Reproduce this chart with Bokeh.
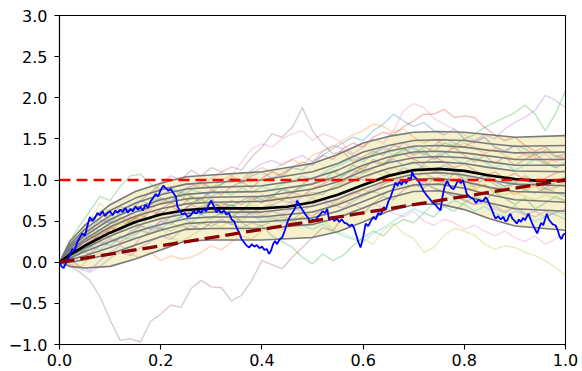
import numpy as np
from bokeh.plotting import figure
from bokeh.models import Range1d, FixedTicker
from bokeh.embed import file_html
from bokeh.resources import INLINE

# ---------------- data ----------------
x_ticks = [0.0, 0.2, 0.4, 0.6, 0.8, 1.0]
x_tick_labels = ["0.0", "0.2", "0.4", "0.6", "0.8", "1.0"]
y_ticks = [-1.0, -0.5, 0.0, 0.5, 1.0, 1.5, 2.0, 2.5, 3.0]
y_tick_labels = ["\u22121.0", "\u22120.5", "0.0", "0.5", "1.0", "1.5", "2.0", "2.5", "3.0"]

# mean curve (black)
mean_t = [0, 0.02, 0.05, 0.1, 0.15, 0.2, 0.25, 0.3, 0.35, 0.4, 0.45, 0.5, 0.55, 0.6, 0.65,
          0.7, 0.75, 0.8, 0.85, 0.9, 0.95, 1.0]
mean_y = [0, 0.09, 0.20, 0.36, 0.49, 0.58, 0.635, 0.655, 0.655, 0.655, 0.675, 0.73, 0.82, 0.94,
          1.05, 1.12, 1.135, 1.11, 1.055, 1.01, 0.99, 1.0]

# quantile curves (gray), outermost first
q_t = [0, 0.02, 0.05, 0.1, 0.15, 0.2, 0.25, 0.3, 0.4, 0.5, 0.55, 0.6, 0.65, 0.7, 0.75, 0.8, 0.85, 0.9, 1.0]
q_top = [0, 0.25, 0.45, 0.70, 0.86, 0.96, 1.04, 1.06, 1.10, 1.20, 1.31, 1.45, 1.53, 1.58, 1.59, 1.58, 1.55, 1.52, 1.54]
q_u1 = [0, 0.215, 0.40, 0.63, 0.78, 0.88, 0.95, 0.97, 1.00, 1.10, 1.20, 1.34, 1.42, 1.48, 1.49, 1.48, 1.44, 1.41, 1.42]
q_u2 = [0, 0.19, 0.355, 0.57, 0.72, 0.82, 0.89, 0.91, 0.93, 1.02, 1.12, 1.26, 1.35, 1.41, 1.42, 1.40, 1.36, 1.33, 1.34]
q_u3 = [0, 0.165, 0.32, 0.52, 0.66, 0.76, 0.825, 0.85, 0.86, 0.95, 1.05, 1.18, 1.28, 1.34, 1.35, 1.33, 1.29, 1.25, 1.25]
q_u4 = [0, 0.14, 0.28, 0.47, 0.61, 0.71, 0.77, 0.79, 0.80, 0.89, 0.98, 1.11, 1.21, 1.27, 1.285, 1.27, 1.22, 1.18, 1.18]
q_u5 = [0, 0.12, 0.25, 0.43, 0.56, 0.65, 0.71, 0.73, 0.74, 0.82, 0.91, 1.04, 1.14, 1.21, 1.22, 1.20, 1.15, 1.11, 1.10]
q_l1 = [0, 0.075, 0.17, 0.32, 0.44, 0.53, 0.59, 0.61, 0.61, 0.68, 0.77, 0.89, 1.00, 1.07, 1.09, 1.06, 1.00, 0.95, 0.93]
q_l2 = [0, 0.05, 0.13, 0.25, 0.37, 0.46, 0.53, 0.55, 0.55, 0.61, 0.70, 0.82, 0.93, 1.01, 1.02, 0.98, 0.91, 0.86, 0.84]
q_l3 = [0, 0.03, 0.08, 0.18, 0.29, 0.39, 0.47, 0.49, 0.49, 0.54, 0.62, 0.74, 0.86, 0.94, 0.95, 0.90, 0.82, 0.76, 0.73]
q_l4 = [0, 0.0, 0.03, 0.10, 0.21, 0.31, 0.40, 0.41, 0.41, 0.46, 0.54, 0.66, 0.78, 0.86, 0.87, 0.81, 0.72, 0.65, 0.62]
q_bot = [0, -0.05, -0.07, -0.05, 0.04, 0.15, 0.26, 0.27, 0.27, 0.30, 0.37, 0.49, 0.62, 0.70, 0.71, 0.64, 0.53, 0.44, 0.39]

# faint sample paths (values at t = 0, 0.02, ..., 1.0)
path_brown1 = [0, -0.04, -0.12, -0.22, -0.42, -0.70, -0.95, -0.93, -0.97, -0.72,
               -0.63, -0.52, -0.55, -0.32, -0.22, -0.30, -0.31, -0.47, -0.40, -0.22,
               0.02, -0.03, -0.08, 0.06, 0.18, 0.30, 0.42, 0.38, 0.55, 0.62,
               0.58, 0.72, 0.80, 0.76, 0.88, 0.95, 0.90, 1.02, 0.97, 1.08,
               1.00, 0.92, 1.02, 0.95, 0.88, 0.96, 1.05, 0.98, 0.90, 0.97, 1.04]
path_brown2 = [0, 0.12, 0.22, 0.35, 0.45, 0.55, 0.68, 0.62, 0.75, 0.85,
               0.95, 1.05, 1.00, 1.12, 1.05, 1.15, 1.10, 1.16, 1.12, 1.28,
               1.40, 1.56, 1.52, 1.64, 1.88, 1.60, 1.44, 1.32, 1.35, 1.22,
               1.28, 1.35, 1.30, 1.42, 1.38, 1.30, 1.36, 1.25, 1.32, 1.40,
               1.30, 1.22, 1.30, 1.20, 1.28, 1.18, 1.25, 1.32, 1.22, 1.15, 1.20]
path_pink1 = [0, 0.08, 0.15, 0.28, 0.40, 0.36, 0.48, 0.60, 0.55, 0.68,
              0.75, 0.72, 0.85, 0.95, 0.90, 1.02, 1.10, 1.05, 1.22, 1.38,
              1.44, 1.40, 1.50, 1.56, 1.60, 1.48, 1.56, 1.52, 1.44, 1.32,
              1.40, 1.50, 1.45, 1.60, 1.84, 1.93, 1.88, 1.75, 1.68, 1.62,
              1.55, 1.48, 1.52, 1.40, 1.35, 1.42, 1.30, 1.25, 1.32, 1.22, 1.28]
path_red1 = [0, 0.10, 0.18, 0.25, 0.32, 0.42, 0.38, 0.50, 0.58, 0.52,
             0.65, 0.72, 0.68, 0.80, 0.75, 0.88, 0.82, 0.92, 0.98, 0.90,
             1.02, 1.10, 1.05, 1.15, 1.22, 1.18, 1.30, 1.25, 1.38, 1.45,
             1.40, 1.52, 1.58, 1.55, 1.65, 1.72, 1.80, 1.80, 1.86, 1.76,
             1.78, 1.76, 1.64, 1.55, 1.48, 1.52, 1.42, 1.35, 1.40, 1.30, 1.25]
path_green1 = [0, 0.15, 0.10, 0.22, 0.35, 0.42, 0.55, 0.48, 0.60, 0.70,
               0.78, 0.72, 0.85, 0.80, 0.72, 0.78, 0.65, 0.70, 0.62, 0.75,
               0.82, 0.78, 0.90, 0.85, 0.95, 1.02, 0.98, 1.10, 1.05, 1.18,
               1.12, 1.25, 1.20, 1.30, 1.38, 1.32, 1.40, 1.35, 1.45, 1.42,
               1.50, 1.55, 1.64, 1.70, 1.76, 1.82, 1.91, 1.80, 1.60, 1.80, 2.09]
path_green2 = [0, 0.25, 0.45, 0.62, 0.80, 0.75, 0.92, 1.05, 1.07, 0.95,
               0.88, 0.92, 0.80, 0.72, 0.78, 0.65, 0.58, 0.62, 0.48, 0.40,
               0.45, 0.32, 0.25, 0.18, 0.06, -0.02, 0.10, 0.02, 0.08, 0.20,
               0.30, 0.38, 0.32, 0.45, 0.52, 0.48, 0.60, 0.55, 0.68, 0.62,
               0.72, 0.80, 0.75, 0.85, 0.78, 0.70, 0.78, 0.65, 0.72, 0.80, 0.75]
path_purple1 = [0, 0.05, -0.05, -0.10, 0.02, 0.12, 0.20, 0.15, 0.30, 0.38,
                0.45, 0.55, 0.62, 0.70, 0.78, 0.85, 0.95, 1.02, 1.00, 1.12,
                1.20, 1.24, 1.18, 1.25, 1.30, 1.22, 1.35, 1.42, 1.38, 1.30,
                1.25, 1.32, 1.40, 1.35, 1.45, 1.38, 1.30, 1.42, 1.50, 1.45,
                1.40, 1.48, 1.55, 1.50, 1.62, 1.70, 1.76, 1.85, 2.03, 1.97, 1.88]
path_olive1 = [0, 0.20, 0.35, 0.50, 0.72, 0.60, 0.45, 0.52, 0.40, 0.35,
               0.42, 0.30, 0.25, 0.32, 0.40, 0.48, 0.42, 0.55, 0.50, 0.62,
               0.58, 0.52, 0.60, 0.48, 0.55, 0.45, 0.52, 0.40, 0.35, 0.30,
               0.28, 0.22, 0.39, 0.47, 0.35, 0.29, 0.12, 0.18, 0.33, 0.41,
               0.38, 0.33, 0.22, 0.16, 0.20, 0.18, 0.12, 0.08, 0.02, -0.06, -0.16]
path_cyan1 = [0, 0.05, 0.12, 0.20, 0.15, 0.25, 0.32, 0.28, 0.38, 0.45,
              0.40, 0.50, 0.55, 0.48, 0.58, 0.52, 0.60, 0.55, 0.62, 0.58,
              0.50, 0.55, 0.48, 0.52, 0.45, 0.40, 0.46, 0.38, 0.32, 0.28,
              0.25, 0.35, 0.42, 0.50, 0.58, 0.65, 0.60, 0.72, 0.68, 0.75,
              0.70, 0.62, 0.68, 0.60, 0.55, 0.62, 0.58, 0.50, 0.55, 0.62, 0.58]
path_blue1 = [0, 0.15, 0.28, 0.40, 0.52, 0.48, 0.60, 0.68, 0.75, 0.70,
              0.82, 0.88, 0.85, 0.92, 0.98, 0.90, 0.95, 1.02, 0.96, 1.05,
              1.10, 1.02, 1.08, 1.15, 1.12, 1.22, 1.30, 1.38, 1.45, 1.52,
              1.48, 1.60, 1.68, 1.80, 1.72, 1.65, 1.70, 1.60, 1.55, 1.62,
              1.50, 1.45, 1.52, 1.40, 1.35, 1.42, 1.38, 1.30, 1.36, 1.28, 1.32]
path_blue2 = [0, 0.04, 0.10, 0.18, 0.25, 0.20, 0.30, 0.36, 0.44, 0.40,
              0.50, 0.46, 0.55, 0.62, 0.58, 0.66, 0.72, 0.68, 0.75, 0.80,
              0.76, 0.82, 0.88, 0.84, 0.92, 0.96, 1.02, 0.98, 1.05, 1.12,
              1.08, 1.15, 1.20, 1.25, 1.18, 1.22, 1.15, 1.10, 1.18, 1.12,
              1.05, 1.00, 1.06, 0.98, 0.92, 0.96, 0.88, 0.84, 0.90, 0.85, 0.80]
path_orange1 = [0, 0.10, 0.22, 0.18, 0.30, 0.42, 0.50, 0.45, 0.58, 0.65,
                0.72, 0.80, 0.75, 0.88, 0.95, 0.90, 1.00, 1.05, 0.98, 1.08,
                1.15, 1.10, 1.20, 1.25, 1.18, 1.30, 1.35, 1.40, 1.48, 1.55,
                1.60, 1.68, 1.65, 1.58, 1.62, 1.52, 1.45, 1.50, 1.42, 1.38,
                1.45, 1.40, 1.32, 1.38, 1.30, 1.25, 1.32, 1.28, 1.20, 1.25, 1.30]
path_orange2 = [0, 0.02, -0.06, 0.05, 0.12, 0.08, 0.15, 0.10, 0.05, 0.12,
                0.02, 0.08, 0.04, 0.06, 0.12, 0.20, 0.15, 0.25, 0.32, 0.28,
                0.38, 0.45, 0.40, 0.50, 0.55, 0.62, 0.58, 0.70, 0.75, 0.82,
                0.88, 0.85, 0.95, 1.02, 0.98, 1.05, 1.10, 1.02, 0.95, 1.00,
                0.92, 0.88, 0.95, 0.85, 0.90, 0.82, 0.88, 0.92, 0.85, 0.90, 0.96]
path_red2 = [0, 0.12, 0.20, 0.32, 0.28, 0.40, 0.48, 0.55, 0.52, 0.62,
             0.58, 0.68, 0.62, 0.70, 0.65, 0.72, 0.68, 0.75, 0.70, 0.78,
             0.72, 0.80, 0.75, 0.85, 0.80, 0.90, 0.95, 1.02, 0.98, 1.08,
             1.15, 1.22, 1.18, 1.28, 1.32, 1.25, 1.20, 1.28, 1.22, 1.15,
             1.20, 1.12, 1.05, 1.10, 1.02, 1.08, 1.00, 0.95, 1.02, 1.08, 1.12]
path_pink2 = [0, 0.08, 0.02, 0.12, 0.22, 0.30, 0.25, 0.38, 0.45, 0.40,
              0.50, 0.55, 0.62, 0.58, 0.65, 0.60, 0.68, 0.62, 0.58, 0.65,
              0.60, 0.70, 0.66, 0.75, 0.70, 0.78, 0.72, 0.68, 0.75, 0.70,
              0.65, 0.72, 0.66, 0.60, 0.55, 0.62, 0.50, 0.45, 0.52, 0.48,
              0.40, 0.45, 0.38, 0.32, 0.38, 0.30, 0.25, 0.32, 0.22, 0.28, 0.35]
path_gray1 = [0, 0.10, 0.15, 0.25, 0.35, 0.30, 0.42, 0.50, 0.45, 0.55,
              0.62, 0.58, 0.65, 0.60, 0.68, 0.72, 0.66, 0.70, 0.64, 0.60,
              0.66, 0.70, 0.75, 0.72, 0.80, 0.85, 0.82, 0.92, 0.98, 1.05,
              1.00, 1.08, 1.12, 1.05, 1.15, 1.10, 1.18, 1.12, 1.05, 1.10,
              1.02, 0.98, 1.05, 1.00, 0.92, 0.98, 0.90, 0.95, 0.88, 0.92, 0.98]
path_purple2 = [0, -0.02, -0.08, -0.12, -0.05, 0.05, 0.12, 0.08, 0.18, 0.25,
                0.32, 0.28, 0.38, 0.45, 0.40, 0.48, 0.52, 0.46, 0.55, 0.60,
                0.56, 0.62, 0.58, 0.66, 0.62, 0.70, 0.76, 0.72, 0.80, 0.86,
                0.82, 0.90, 0.95, 1.00, 0.96, 1.02, 0.95, 0.90, 0.85, 0.80,
                0.76, 0.70, 0.72, 0.65, 0.60, 0.66, 0.58, 0.62, 0.55, 0.60, 0.65]
path_cyan2 = [0, 0.18, 0.30, 0.42, 0.38, 0.50, 0.58, 0.65, 0.62, 0.72,
              0.78, 0.75, 0.82, 0.88, 0.85, 0.80, 0.86, 0.82, 0.90, 0.85,
              0.92, 0.88, 0.95, 0.98, 1.05, 1.00, 1.08, 1.15, 1.20, 1.26,
              1.22, 1.32, 1.38, 1.30, 1.35, 1.40, 1.32, 1.28, 1.35, 1.25,
              1.20, 1.28, 1.22, 1.15, 1.20, 1.12, 1.18, 1.25, 1.20, 1.15, 1.22]
path_gray2 = [0, 0.06, 0.14, 0.10, 0.20, 0.28, 0.24, 0.32, 0.38, 0.35,
              0.42, 0.38, 0.45, 0.40, 0.48, 0.44, 0.50, 0.46, 0.42, 0.48,
              0.44, 0.50, 0.55, 0.52, 0.60, 0.56, 0.64, 0.70, 0.66, 0.74,
              0.80, 0.86, 0.82, 0.90, 0.95, 0.92, 0.98, 0.90, 0.86, 0.80,
              0.75, 0.70, 0.76, 0.68, 0.62, 0.68, 0.60, 0.55, 0.62, 0.58, 0.52]
path_olive2 = [0, 0.14, 0.26, 0.38, 0.35, 0.45, 0.40, 0.52, 0.58, 0.50,
               0.55, 0.48, 0.42, 0.50, 0.46, 0.55, 0.60, 0.56, 0.64, 0.70,
               0.66, 0.74, 0.80, 0.76, 0.82, 0.78, 0.85, 0.90, 0.96, 1.00,
               1.08, 1.12, 1.05, 1.15, 1.10, 1.02, 1.08, 1.00, 0.95, 1.02,
               0.96, 0.90, 0.94, 0.88, 0.82, 0.86, 0.80, 0.76, 0.82, 0.78, 0.74]

# highlighted sample path (blue): (t, value)
blue_pts = [
    (0, 0), (0.004, -0.05), (0.008, -0.07), (0.012, -0.02), (0.016, 0.03), (0.02, 0.08),
    (0.025, 0.16), (0.03, 0.14), (0.035, 0.24), (0.04, 0.30), (0.045, 0.35), (0.05, 0.32),
    (0.055, 0.44), (0.06, 0.55), (0.065, 0.50), (0.07, 0.54), (0.075, 0.60), (0.08, 0.57),
    (0.085, 0.62), (0.09, 0.56), (0.095, 0.60), (0.10, 0.62), (0.105, 0.57), (0.11, 0.63),
    (0.115, 0.60), (0.12, 0.64), (0.125, 0.61), (0.13, 0.66), (0.135, 0.60), (0.14, 0.65),
    (0.145, 0.62), (0.15, 0.68), (0.155, 0.64), (0.16, 0.67), (0.165, 0.63), (0.17, 0.70),
    (0.175, 0.66), (0.18, 0.74), (0.185, 0.78), (0.19, 0.83), (0.195, 0.80), (0.2, 0.88),
    (0.205, 0.93), (0.21, 0.90), (0.215, 0.87), (0.22, 0.89), (0.225, 0.84), (0.23, 0.80),
    (0.233, 0.68), (0.238, 0.62), (0.243, 0.58), (0.248, 0.60), (0.253, 0.55), (0.259, 0.57),
    (0.265, 0.62), (0.27, 0.59), (0.275, 0.63), (0.28, 0.60), (0.285, 0.65), (0.29, 0.62),
    (0.295, 0.70), (0.30, 0.75), (0.305, 0.68), (0.31, 0.61), (0.315, 0.64), (0.32, 0.60),
    (0.325, 0.63), (0.33, 0.58), (0.335, 0.60), (0.34, 0.52), (0.345, 0.50), (0.35, 0.42),
    (0.355, 0.36), (0.36, 0.28), (0.365, 0.24), (0.37, 0.20), (0.375, 0.18), (0.38, 0.22),
    (0.385, 0.19), (0.39, 0.21), (0.395, 0.17), (0.40, 0.19), (0.405, 0.15), (0.41, 0.16),
    (0.414, 0.10), (0.418, 0.14), (0.422, 0.22), (0.426, 0.26), (0.43, 0.22), (0.435, 0.28),
    (0.44, 0.30), (0.445, 0.38), (0.45, 0.48), (0.455, 0.55), (0.46, 0.60), (0.465, 0.65),
    (0.47, 0.75), (0.475, 0.68), (0.48, 0.64), (0.485, 0.59), (0.49, 0.55), (0.496, 0.49),
    (0.5, 0.52), (0.505, 0.50), (0.51, 0.55), (0.515, 0.58), (0.52, 0.62), (0.525, 0.60),
    (0.529, 0.65), (0.533, 0.51), (0.538, 0.55), (0.543, 0.50), (0.548, 0.53), (0.553, 0.49),
    (0.558, 0.52), (0.563, 0.48), (0.568, 0.47), (0.573, 0.44), (0.578, 0.46), (0.582, 0.42),
    (0.587, 0.32), (0.591, 0.24), (0.595, 0.18), (0.6, 0.30), (0.605, 0.47), (0.61, 0.44),
    (0.615, 0.50), (0.62, 0.55), (0.625, 0.52), (0.63, 0.60), (0.635, 0.58), (0.641, 0.67),
    (0.645, 0.64), (0.65, 0.74), (0.654, 0.79), (0.658, 0.86), (0.664, 0.97), (0.668, 0.93),
    (0.672, 0.98), (0.676, 0.94), (0.68, 1.00), (0.685, 0.96), (0.69, 1.03), (0.694, 1.00),
    (0.697, 1.10), (0.70, 1.05), (0.705, 1.02), (0.71, 0.98), (0.716, 0.91), (0.72, 0.86),
    (0.725, 0.82), (0.733, 0.76), (0.738, 0.72), (0.743, 0.70), (0.748, 0.66), (0.753, 0.63),
    (0.757, 0.80), (0.761, 0.92), (0.766, 0.99), (0.77, 0.94), (0.775, 0.90), (0.779, 0.89),
    (0.784, 0.95), (0.789, 1.01), (0.793, 0.96), (0.797, 1.00), (0.801, 0.92), (0.805, 0.83),
    (0.81, 0.80), (0.814, 0.78), (0.818, 0.77), (0.823, 0.72), (0.828, 0.76), (0.833, 0.74),
    (0.838, 0.75), (0.842, 0.79), (0.845, 0.77), (0.85, 0.70), (0.855, 0.63), (0.858, 0.58),
    (0.862, 0.53), (0.867, 0.56), (0.872, 0.52), (0.877, 0.55), (0.881, 0.50), (0.885, 0.51),
    (0.888, 0.56), (0.891, 0.59), (0.895, 0.53), (0.9, 0.50), (0.904, 0.47), (0.908, 0.52),
    (0.912, 0.49), (0.916, 0.54), (0.92, 0.51), (0.924, 0.56), (0.927, 0.59), (0.931, 0.52),
    (0.935, 0.46), (0.94, 0.40), (0.944, 0.35), (0.948, 0.42), (0.952, 0.48), (0.956, 0.45),
    (0.96, 0.53), (0.963, 0.59), (0.967, 0.52), (0.971, 0.49), (0.975, 0.46), (0.98, 0.45),
    (0.984, 0.40), (0.988, 0.32), (0.992, 0.28), (0.996, 0.34), (1.0, 0.35),
]

# reference lines
hline_level = 1.0
diag_x = [0.0, 1.0]
diag_y = [0.0, 1.0]

# ---------------- figure ----------------
p = figure(width=582, height=371, x_range=Range1d(0, 1), y_range=Range1d(-1, 3),
           output_backend="svg", toolbar_location=None,
           min_border_left=59, min_border_right=17, min_border_top=15, min_border_bottom=27)
p.background_fill_color = "white"
p.border_fill_color = "white"
p.xgrid.visible = False
p.ygrid.visible = False
p.outline_line_color = "black"
p.outline_line_width = 1.1

# band fill between outermost quantiles
p.varea(x=q_t, y1=q_bot, y2=q_top, fill_color="#eee8aa", fill_alpha=0.6)

faint = [
    (path_blue1, "#1f77b4"), (path_orange1, "#ff7f0e"), (path_green1, "#2ca02c"),
    (path_red1, "#d62728"), (path_purple1, "#9467bd"), (path_brown1, "#8c564b"),
    (path_pink1, "#e377c2"), (path_gray1, "#7f7f7f"), (path_olive1, "#bcbd22"),
    (path_cyan1, "#17becf"), (path_blue2, "#1f77b4"), (path_orange2, "#ff7f0e"),
    (path_green2, "#2ca02c"), (path_red2, "#d62728"), (path_purple2, "#9467bd"),
    (path_brown2, "#8c564b"), (path_pink2, "#e377c2"), (path_gray2, "#7f7f7f"),
    (path_olive2, "#bcbd22"), (path_cyan2, "#17becf"),
]
for vals, col in faint:
    xs = np.linspace(0, 1, len(vals))
    p.line(xs, vals, line_color=col, line_alpha=0.3, line_width=1.4)

for q in [q_top, q_u1, q_u2, q_u3, q_u4, q_u5, q_l1, q_l2, q_l3, q_l4, q_bot]:
    p.line(q_t, q, line_color="#7a7a7a", line_width=1.6)

p.line(mean_t, mean_y, line_color="black", line_width=2.7)

blue_t = [a for a, b in blue_pts]
blue_y = [b for a, b in blue_pts]
p.line(blue_t, blue_y, line_color="blue", line_width=1.8)

p.line([0, 1], [hline_level, hline_level], line_color="red", line_width=2.3, line_dash="11 6")
p.line(diag_x, diag_y, line_color="#8b0000", line_width=3.3, line_dash="15 6")

# axes
for ax in (p.xaxis[0], p.yaxis[0]):
    ax.axis_line_color = "black"
    ax.axis_line_width = 1.1
    ax.major_tick_line_color = "black"
    ax.major_tick_line_width = 1.1
    ax.major_tick_out = 5
    ax.major_tick_in = 0
    ax.minor_tick_line_color = None
    ax.major_label_text_font = "DejaVu Sans"
    ax.major_label_text_font_size = "16px"
    ax.major_label_text_color = "black"

p.xaxis.major_label_standoff = 4
p.yaxis.major_label_standoff = 7

p.xaxis.ticker = FixedTicker(ticks=x_ticks)
p.xaxis.major_label_overrides = {t: s for t, s in zip(x_ticks, x_tick_labels)}
p.yaxis.ticker = FixedTicker(ticks=y_ticks)
p.yaxis.major_label_overrides = {t: s for t, s in zip(y_ticks, y_tick_labels)}

open("out.html", "w").write(file_html(p, INLINE))
